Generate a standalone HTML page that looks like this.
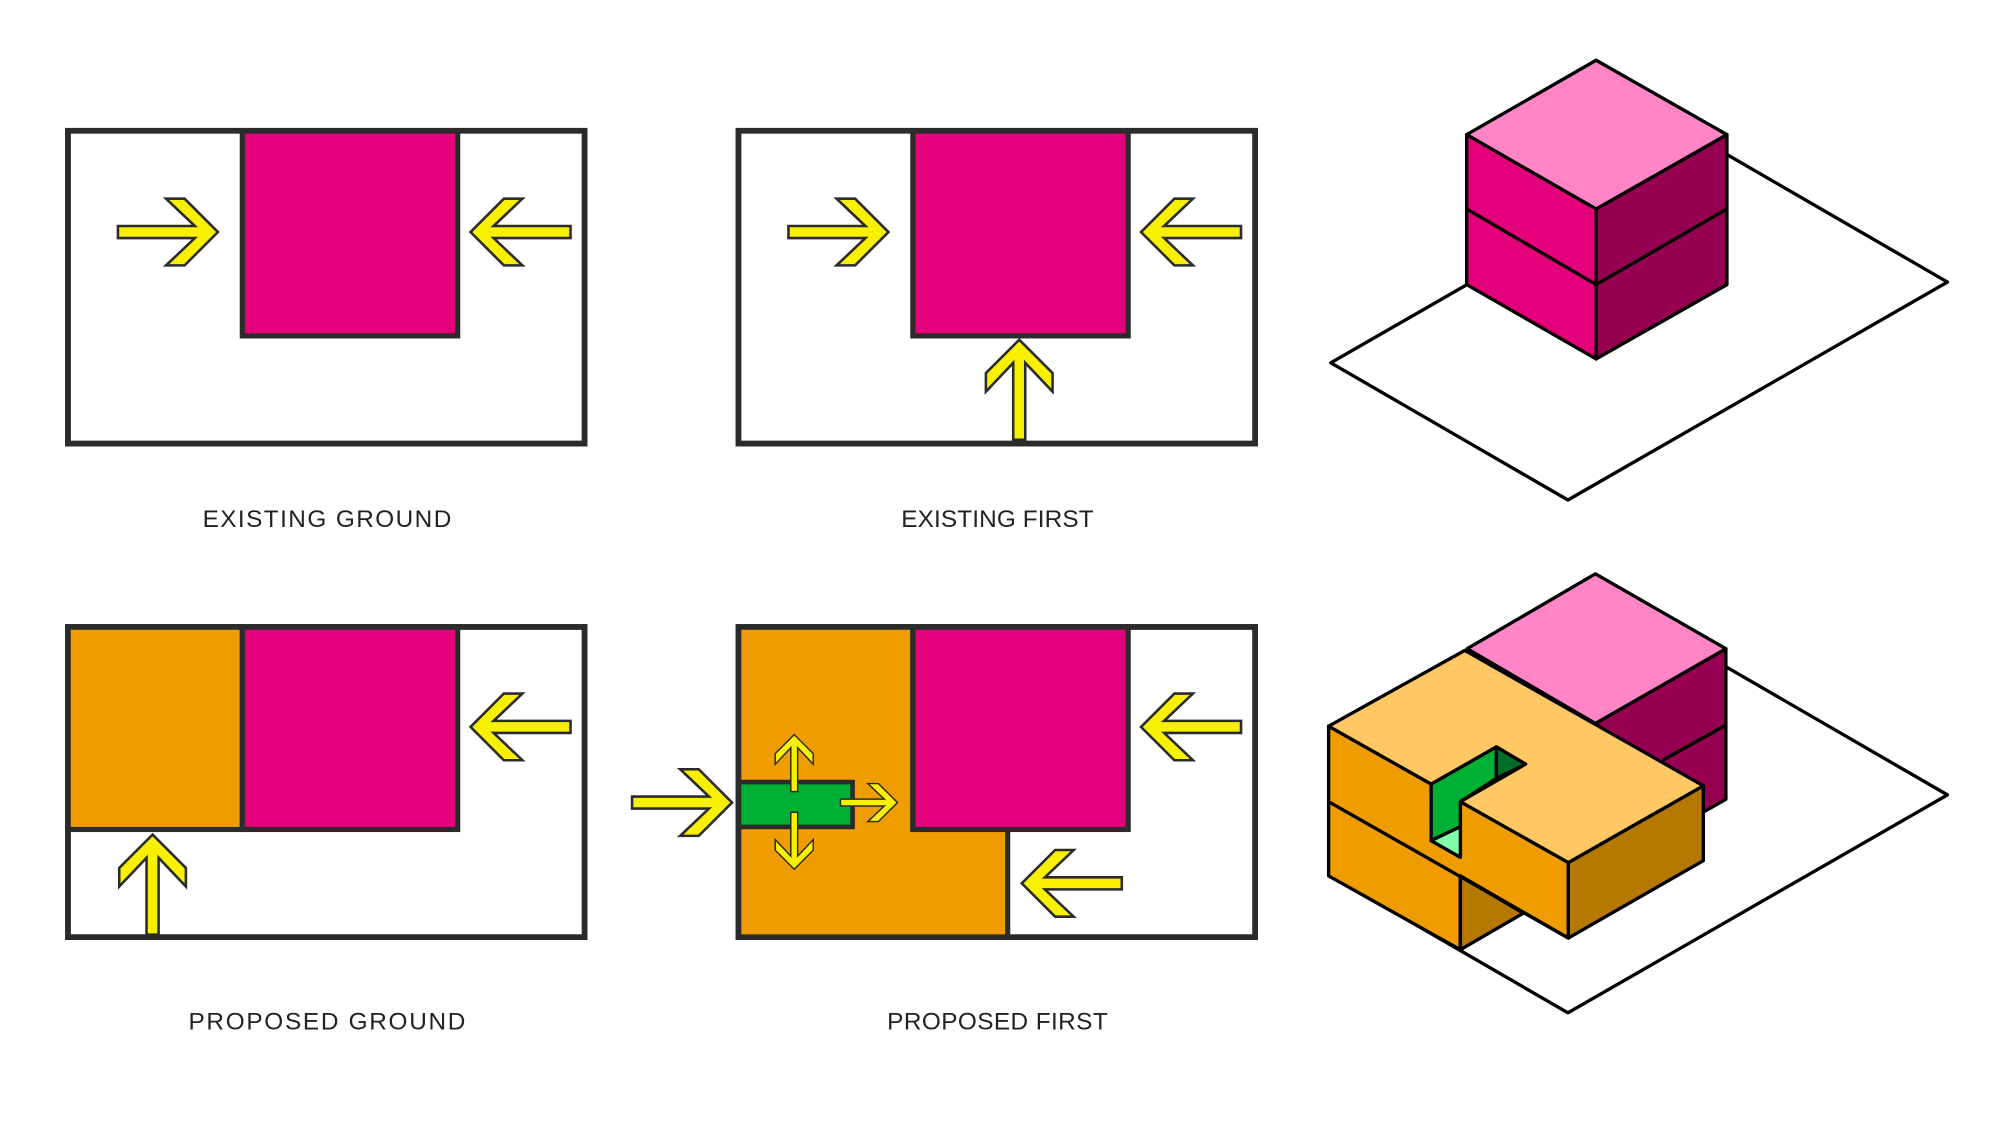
<!DOCTYPE html>
<html><head><meta charset="utf-8"><style>html,body{margin:0;padding:0;background:#fff}svg{display:block}</style></head>
<body>
<svg width="2000" height="1125" viewBox="0 0 1560 877.5" xmlns="http://www.w3.org/2000/svg">
<defs>
<polygon id="ar" points="0,0 -26,-26 -40.5,-26 -18,-4.7 -78,-4.7 -78,4.7 -18,4.7 -40.5,26 -26,26" fill="#f7f000" stroke="#2b2b2b" stroke-width="2" stroke-linejoin="miter"/>
</defs>
<rect width="1560" height="877.5" fill="#fff"/>

<rect x="53" y="102" width="403" height="244" fill="#fff" stroke="#2b2b2b" stroke-width="4.4"/>
<rect x="189" y="102" width="168" height="160" fill="#e4007a" stroke="#2b2b2b" stroke-width="4"/>
<rect x="53" y="102" width="403" height="244" fill="none" stroke="#2b2b2b" stroke-width="4.4"/>
<use href="#ar" transform="translate(170,181)"/>
<use href="#ar" transform="translate(367,181) scale(-1,1)"/>

<rect x="576" y="102" width="403" height="244" fill="#fff" stroke="#2b2b2b" stroke-width="4.4"/>
<rect x="712" y="102" width="168" height="160" fill="#e4007a" stroke="#2b2b2b" stroke-width="4"/>
<rect x="576" y="102" width="403" height="244" fill="none" stroke="#2b2b2b" stroke-width="4.4"/>
<use href="#ar" transform="translate(693,181)"/>
<use href="#ar" transform="translate(890,181) scale(-1,1)"/>
<use href="#ar" transform="translate(795,265) rotate(-90)"/>

<rect x="53" y="489" width="403" height="242" fill="#fff" stroke="#2b2b2b" stroke-width="4.4"/>
<rect x="53" y="489" width="136" height="158" fill="#ef9c00" stroke="#2b2b2b" stroke-width="4"/>
<rect x="189" y="489" width="168" height="158" fill="#e4007a" stroke="#2b2b2b" stroke-width="4"/>
<rect x="53" y="489" width="403" height="242" fill="none" stroke="#2b2b2b" stroke-width="4.4"/>
<use href="#ar" transform="translate(367,567) scale(-1,1)"/>
<use href="#ar" transform="translate(119,651) rotate(-90)"/>

<rect x="576" y="489" width="403" height="242" fill="#fff" stroke="#2b2b2b" stroke-width="4.4"/>
<polygon points="576,489 712,489 712,647 786,647 786,731 576,731" fill="#ef9c00" stroke="#2b2b2b" stroke-width="4"/>
<rect x="712" y="489" width="168" height="158" fill="#e4007a" stroke="#2b2b2b" stroke-width="4"/>
<rect x="576" y="610" width="89" height="35" fill="#00b035" stroke="#2b2b2b" stroke-width="3.6"/>
<rect x="576" y="489" width="403" height="242" fill="none" stroke="#2b2b2b" stroke-width="4.4"/>
<use href="#ar" transform="translate(571,626)"/>
<use href="#ar" transform="translate(890,567) scale(-1,1)"/>
<use href="#ar" transform="translate(797,689) scale(-1,1)"/>
<use href="#ar" transform="translate(619.5,573) rotate(-90) scale(0.57)"/>
<use href="#ar" transform="translate(619.5,678) rotate(90) scale(0.57)"/>
<use href="#ar" transform="translate(700,626) scale(0.57)"/>

<g font-family="Liberation Sans, sans-serif" font-size="19" fill="#222" text-anchor="middle">
<text x="255" y="411" textLength="194" lengthAdjust="spacing">EXISTING GROUND</text>
<text x="778" y="411" textLength="150" lengthAdjust="spacing">EXISTING FIRST</text>
<text x="255" y="803" textLength="216" lengthAdjust="spacing">PROPOSED GROUND</text>
<text x="778" y="803" textLength="172" lengthAdjust="spacing">PROPOSED FIRST</text>
</g>

<g stroke="#000" stroke-width="2.6" stroke-linejoin="round">
<polygon points="1038,283 1223,390 1519,220 1334,113" fill="#fff"/>
<polygon points="1144,105 1245,163 1245,280 1144,222" fill="#e4007a"/>
<polygon points="1245,163 1347,105 1347,222 1245,280" fill="#960050"/>
<polygon points="1144,105 1245,47 1347,105 1245,163" fill="#ff85c7"/>
<polyline points="1144,163 1245,222 1347,163" fill="none"/>
</g>

<g stroke="#000" stroke-width="2.6" stroke-linejoin="round">
<polygon points="1038,683 1223,790 1519,620 1334,513" fill="#fff"/>
<polygon points="1244.4,564.3 1346.2,506 1346.2,623.5 1244.4,681" fill="#960050"/>
<line x1="1297" y1="592.9" x2="1346.2" y2="565.6"/>
<polygon points="1144.4,506 1244.4,447.6 1346.2,506 1244.4,564.3" fill="#ff85c7"/>
<polygon points="1036.3,566.4 1116.3,611.6 1116.3,655.7 1139.1,668.7 1139.1,625.3 1223.3,672.8 1223.3,731.7 1139.1,683.2 1139.1,740.8 1036.3,683.2" fill="#ef9c00"/>
<polygon points="1139.1,683.2 1188.2,712.3 1139.1,740.8" fill="#b57800"/>
<polygon points="1223.3,672.8 1328.6,612.9 1328.6,671.3 1223.3,731.7" fill="#b57800"/>
<polygon points="1116.3,611.6 1167.2,582.5 1167.2,607.2 1139.1,625.3 1139.1,644.8 1116.3,655.7" fill="#00b035"/>
<polygon points="1167.2,582.5 1190,596 1167.2,607.2" fill="#006e28"/>
<polygon points="1116.3,655.7 1139.1,644.8 1139.1,668.7" fill="#80ffa8"/>
<polygon points="1036.3,566.4 1142.6,507.3 1328.6,612.9 1223.3,672.8 1139.1,625.3 1190,596 1167.2,582.5 1116.3,611.6" fill="#ffc864"/>
<line x1="1036.3" y1="625.3" x2="1223.3" y2="731.7"/>
<line x1="1139.1" y1="683.2" x2="1139.1" y2="740.8"/>
</g>
</svg>
</body></html>
